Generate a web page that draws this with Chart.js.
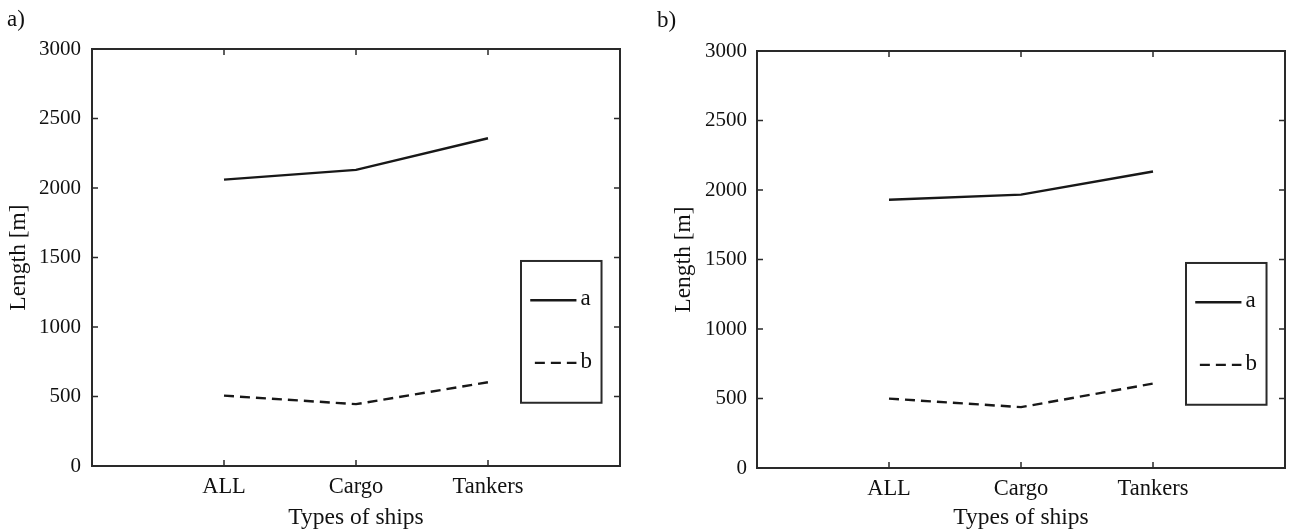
<!DOCTYPE html>
<html>
<head>
<meta charset="utf-8">
<script src="https://cdn.jsdelivr.net/npm/chart.js@4.4.1/dist/chart.umd.min.js"></script>
<style>
  html, body { margin: 0; padding: 0; background: #fff; }
  #wrap { position: relative; width: 1290px; height: 532px; overflow: hidden; }
  canvas { position: absolute; top: 0; }
  .tag { position: absolute; font: 23px "Liberation Serif", "Times New Roman", serif; color: #111; line-height: 1; }
</style>
</head>
<body>
<div id="wrap">
  <canvas id="chartA" width="640" height="532" style="left:0px"></canvas>
  <canvas id="chartB" width="640" height="532" style="left:650px"></canvas>
  <div class="tag" style="left:7px;top:7px">a)</div>
  <div class="tag" style="left:657px;top:8px">b)</div>
</div>
<script>
// Ship types along the x axis
const categories = ['ALL', 'Cargo', 'Tankers'];

// Panel a) lengths [m]
const panelA_a = [2060, 2130, 2358];
const panelA_b = [506, 445, 603];

// Panel b) lengths [m]
const panelB_a = [1930, 1967, 2133];
const panelB_b = [499, 438, 607];

const seriesLabels = ['a', 'b'];
const yTicks = [0, 500, 1000, 1500, 2000, 2500, 3000];

const SERIF = '"Liberation Serif", "Times New Roman", serif';
const INK = '#111111';

Chart.defaults.font.family = SERIF;
Chart.defaults.color = INK;

function points(values) {
  return values.map((v, i) => ({ x: i + 1, y: v }));
}

// Frame, inward tick marks on all four sides, and the boxed legend
const framePlugin = {
  id: 'frame',
  afterDraw(chart, args, opts) {
    const { ctx, chartArea: a, scales: { x, y } } = chart;
    ctx.save();
    ctx.strokeStyle = '#2a2a2a';
    ctx.lineWidth = 2;
    ctx.strokeRect(a.left, a.top, a.right - a.left, a.bottom - a.top);

    const tl = 6;
    ctx.lineWidth = 1.5;
    ctx.beginPath();
    x.ticks.forEach(t => {
      const px = x.getPixelForValue(t.value);
      ctx.moveTo(px, a.bottom); ctx.lineTo(px, a.bottom - tl);
      ctx.moveTo(px, a.top); ctx.lineTo(px, a.top + tl);
    });
    y.ticks.forEach(t => {
      const py = y.getPixelForValue(t.value);
      ctx.moveTo(a.left, py); ctx.lineTo(a.left + tl, py);
      ctx.moveTo(a.right, py); ctx.lineTo(a.right - tl, py);
    });
    ctx.stroke();

    // legend box
    const lg = opts.legend;
    const bx0 = x.getPixelForValue(lg.x0), bx1 = x.getPixelForValue(lg.x1);
    const by0 = y.getPixelForValue(lg.y0), by1 = y.getPixelForValue(lg.y1);
    ctx.fillStyle = '#fff';
    ctx.fillRect(bx0, by0, bx1 - bx0, by1 - by0);
    ctx.lineWidth = 2;
    ctx.strokeStyle = '#2a2a2a';
    ctx.strokeRect(bx0, by0, bx1 - bx0, by1 - by0);

    chart.data.datasets.forEach((ds, i) => {
      const ly = y.getPixelForValue(lg.rows[i]);
      const sx0 = x.getPixelForValue(lg.sampleX[i][0]);
      const sx1 = x.getPixelForValue(lg.sampleX[i][1]);
      ctx.beginPath();
      ctx.strokeStyle = ds.borderColor;
      ctx.lineWidth = ds.borderWidth;
      ctx.setLineDash(ds.borderDash || []);
      ctx.moveTo(sx0, ly); ctx.lineTo(sx1, ly);
      ctx.stroke();
      ctx.setLineDash([]);
      ctx.fillStyle = INK;
      ctx.font = '23px ' + SERIF;
      ctx.textAlign = 'left';
      ctx.textBaseline = 'alphabetic';
      ctx.fillText(ds.label, x.getPixelForValue(lg.textX), ly + 5);
    });
    ctx.restore();
  }
};

function makeChart(id, seriesA, seriesB, layout) {
  return new Chart(document.getElementById(id), {
    type: 'line',
    data: {
      datasets: [
        {
          label: seriesLabels[0],
          data: points(seriesA),
          borderColor: '#181818',
          borderWidth: 2.4,
          pointRadius: 0,
          tension: 0,
          fill: false
        },
        {
          label: seriesLabels[1],
          data: points(seriesB),
          borderColor: '#181818',
          borderWidth: 2.4,
          borderDash: [10, 6],
          pointRadius: 0,
          tension: 0,
          fill: false
        }
      ]
    },
    options: {
      responsive: false,
      animation: false,
      devicePixelRatio: 1,
      layout: { padding: { top: layout.top, right: layout.right, left: 0, bottom: 0 } },
      plugins: {
        legend: { display: false },
        tooltip: { enabled: false },
        frame: {
          legend: {
            x0: 3.25, x1: 3.86, y0: 1475, y1: 455,
            rows: [1192, 742],
            sampleX: [[3.32, 3.67], [3.355, 3.67]],
            textX: 3.70
          }
        }
      },
      scales: {
        x: {
          type: 'linear',
          min: 0,
          max: 4,
          afterBuildTicks: s => { s.ticks = categories.map((c, i) => ({ value: i + 1 })); },
          afterFit: s => { s.height = layout.xHeight; },
          grid: { display: false, drawTicks: false },
          border: { display: false },
          ticks: {
            autoSkip: false,
            maxRotation: 0,
            padding: 8,
            font: { size: 22.5, family: SERIF },
            color: INK,
            callback: v => categories[v - 1]
          },
          title: {
            display: true,
            text: 'Types of ships',
            font: { size: 23.5, family: SERIF, lineHeight: 1.2 },
            color: INK,
            padding: { top: 0, bottom: layout.xTitlePad }
          }
        },
        y: {
          type: 'linear',
          min: 0,
          max: 3000,
          afterBuildTicks: s => { s.ticks = yTicks.map(v => ({ value: v })); },
          afterFit: s => { s.width = layout.yWidth; },
          grid: { display: false, drawTicks: false },
          border: { display: false },
          ticks: {
            padding: layout.yTickPad,
            font: { size: 21, family: SERIF },
            color: INK,
            callback: v => String(v)
          },
          title: {
            display: true,
            text: 'Length [m]',
            font: { size: 23.5, family: SERIF, lineHeight: 1.2 },
            color: INK,
            padding: { top: layout.yTitlePad, bottom: 0 }
          }
        }
      }
    },
    plugins: [framePlugin]
  });
}

makeChart('chartA', panelA_a, panelA_b, {
  top: 49, right: 20, yWidth: 92, xHeight: 66, yTickPad: 11, yTitlePad: 5, xTitlePad: 0
});
makeChart('chartB', panelB_a, panelB_b, {
  top: 51, right: 5, yWidth: 107, xHeight: 64, yTickPad: 10, yTitlePad: 20, xTitlePad: 0
});
</script>
</body>
</html>
